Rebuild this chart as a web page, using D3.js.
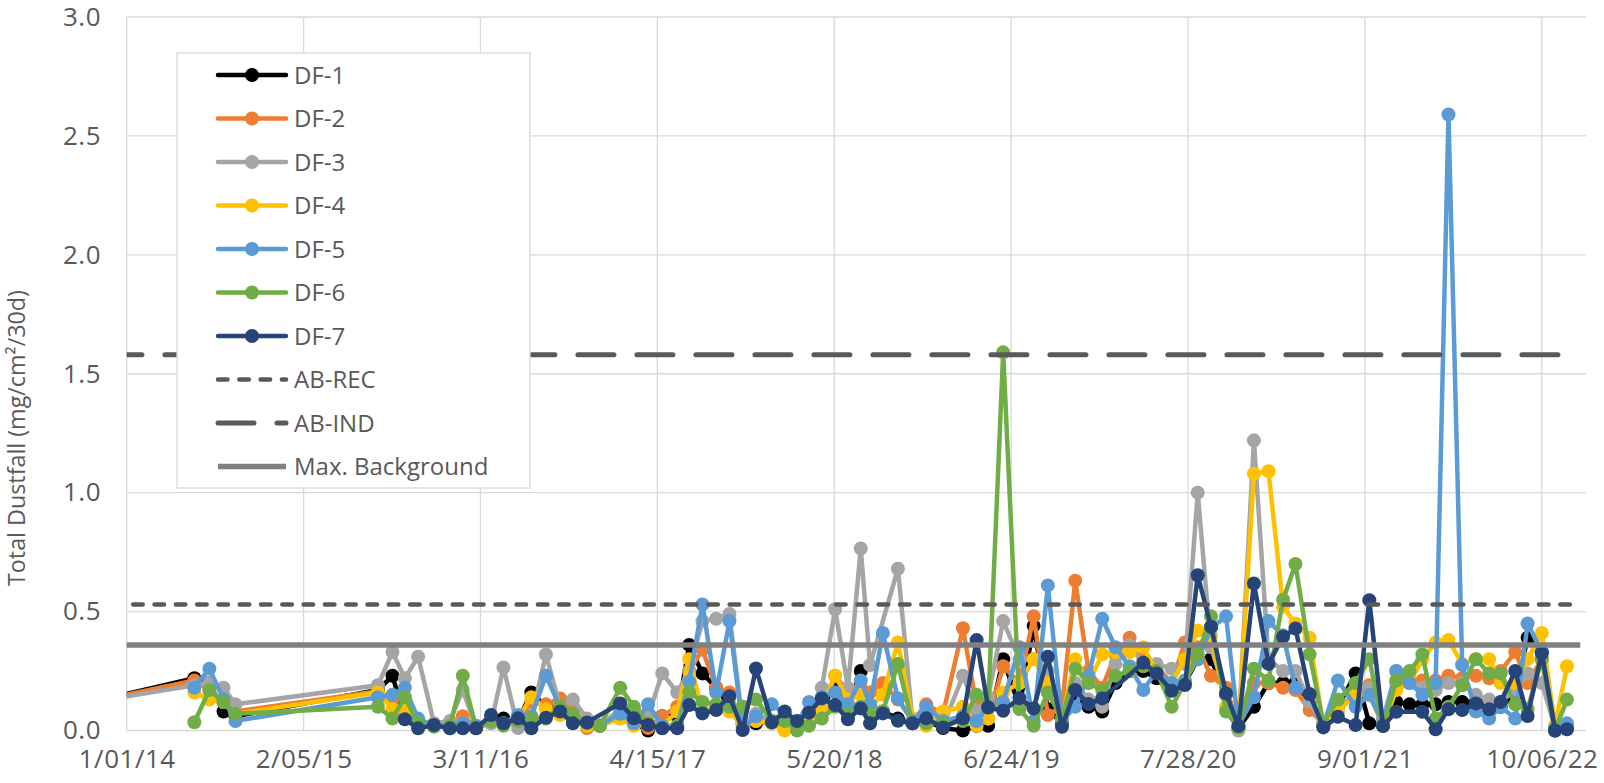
<!DOCTYPE html>
<html>
<head>
<meta charset="utf-8">
<script src="https://cdnjs.cloudflare.com/ajax/libs/d3/7.8.5/d3.min.js"></script>
<style>
body { margin: 0; background: #fff; }
svg { display: block; font-family: "Open Sans", sans-serif; }
</style>
</head>
<body>
<script>
"use strict"

const dates = [
	"2013-10-15","2014-06-03","2014-07-07","2014-08-08","2014-09-04","2015-07-23","2015-08-25","2015-09-22","2015-10-22","2015-11-27",
	"2016-01-02","2016-01-31","2016-03-01","2016-04-04","2016-05-02","2016-06-04","2016-07-04","2016-08-06","2016-09-07","2016-10-06",
	"2016-11-07","2016-12-06","2017-01-21","2017-02-21","2017-03-25","2017-04-26","2017-05-30","2017-06-26","2017-07-26","2017-08-26",
	"2017-09-25","2017-10-25","2017-11-24","2017-12-30","2018-01-28","2018-02-25","2018-03-24","2018-04-22","2018-05-22","2018-06-20",
	"2018-07-19","2018-08-09","2018-09-07","2018-10-11","2018-11-13","2018-12-14","2019-01-21","2019-03-07","2019-04-07","2019-05-03",
	"2019-06-06","2019-07-13","2019-08-14","2019-09-15","2019-10-17","2019-11-16","2019-12-16","2020-01-16","2020-02-15","2020-03-18",
	"2020-04-18","2020-05-18","2020-06-21","2020-07-21","2020-08-19","2020-09-18","2020-10-22","2020-11-19","2020-12-24","2021-01-26",
	"2021-02-28","2021-03-28","2021-04-29","2021-05-30","2021-07-02","2021-08-11","2021-09-11","2021-10-12","2021-11-11","2021-12-11",
	"2022-01-09","2022-02-08","2022-03-09","2022-04-09","2022-05-10","2022-06-09","2022-07-05","2022-08-07","2022-09-04","2022-10-06",
	"2022-11-05","2022-12-02"
];

const df1 = [
	0.12,0.22,0.20,0.08,0.06,0.17,0.23,0.05,0.03,0.02,
	0.02,0.03,0.01,0.04,0.05,0.04,0.16,0.10,0.09,0.05,
	0.03,0.02,0.06,0.03,0.00,0.06,0.06,0.36,0.24,0.18,
	0.10,0.03,0.03,0.04,0.03,0.02,0.06,0.10,0.18,0.10,
	0.25,0.10,0.08,0.05,0.03,0.04,0.01,0.00,0.02,0.02,
	0.30,0.10,0.44,0.09,0.03,0.15,0.10,0.08,0.20,0.25,
	0.25,0.22,0.18,0.20,0.30,0.30,0.15,0.01,0.10,0.20,
	0.20,0.20,0.12,0.02,0.10,0.24,0.03,0.02,0.12,0.11,
	0.11,0.11,0.12,0.12,0.12,0.11,0.10,0.15,0.39,0.33,
	0.00,0.01
];
const df2 = [
	0.12,0.21,0.17,0.12,0.08,0.165,0.13,0.06,0.04,0.02,
	0.01,0.06,0.015,0.04,0.03,0.04,0.12,0.11,0.135,0.10,
	0.01,0.02,0.085,0.09,0.01,0.06,0.10,0.25,0.34,0.18,
	0.16,0.03,0.04,0.04,0.03,0.01,0.03,0.09,0.23,0.16,
	0.18,0.16,0.20,0.13,0.04,0.11,0.07,0.43,0.10,0.05,
	0.27,0.20,0.48,0.065,0.10,0.63,0.25,0.18,0.32,0.39,
	0.30,0.27,0.20,0.37,0.35,0.23,0.18,0.02,0.20,0.20,
	0.18,0.17,0.086,0.03,0.10,0.15,0.19,0.05,0.20,0.21,
	0.21,0.21,0.23,0.22,0.23,0.22,0.25,0.33,0.20,0.30,
	0.01,0.02
];
const df3 = [
	0.12,0.19,0.20,0.18,0.11,0.19,0.33,0.22,0.31,0.03,
	0.04,0.17,0.01,0.03,0.265,0.01,0.05,0.32,0.10,0.13,
	0.05,0.02,0.09,0.05,0.06,0.24,0.16,0.25,0.46,0.47,
	0.49,0.03,0.07,0.04,0.03,0.02,0.05,0.18,0.51,0.18,
	0.765,0.275,null,0.68,0.04,0.05,0.02,0.23,0.08,0.14,
	0.46,0.30,0.30,0.25,0.08,0.20,0.13,0.10,0.28,0.36,
	0.28,0.28,0.26,0.28,1.00,0.35,0.15,0.00,1.22,0.30,
	0.25,0.25,0.12,0.02,0.10,0.15,0.18,0.05,0.25,0.20,
	0.18,0.17,0.20,0.20,0.15,0.13,0.12,0.17,0.24,0.20,
	0.01,0.02
];
const df4 = [
	null,0.16,0.13,0.12,0.07,0.16,0.09,0.09,0.03,0.02,
	0.02,0.03,0.01,0.04,0.03,0.05,0.14,0.09,0.065,0.05,
	0.02,0.02,0.05,0.02,0.03,0.02,0.08,0.30,0.08,0.10,
	0.08,0.02,0.04,0.03,0.00,0.01,0.04,0.10,0.23,0.13,
	0.15,0.10,0.15,0.37,0.05,0.02,0.08,0.10,0.02,0.05,
	0.16,0.20,0.30,0.20,0.05,0.30,0.20,0.32,0.33,0.33,
	0.35,0.25,0.20,0.30,0.42,0.40,0.10,0.01,1.08,1.09,
	0.52,0.45,0.39,0.02,0.08,0.15,0.15,0.02,0.17,0.20,
	0.30,0.37,0.38,0.28,0.30,0.30,0.20,0.20,0.30,0.41,
	0.02,0.27
];
const df5 = [
	null,0.18,0.26,0.13,0.04,0.14,0.15,0.18,0.05,0.02,
	0.02,0.03,0.02,0.04,0.03,0.065,0.06,0.23,0.10,0.06,
	0.03,0.02,0.07,0.03,0.11,0.02,0.02,0.205,0.53,0.16,
	0.46,0.01,0.06,0.11,0.07,0.03,0.12,0.14,0.16,0.11,
	0.21,0.11,0.41,0.135,0.04,0.10,0.04,0.06,0.04,0.10,
	0.12,0.35,0.04,0.61,0.04,0.10,0.23,0.47,0.35,0.27,
	0.17,0.25,0.20,0.21,0.30,0.43,0.48,0.02,0.14,0.46,
	0.40,0.18,0.15,0.02,0.21,0.10,0.15,0.03,0.25,0.20,
	0.15,0.20,2.59,0.275,0.08,0.05,0.10,0.05,0.45,0.33,
	0.01,0.03
];
const df6 = [
	null,0.035,0.17,0.12,0.07,0.10,0.05,0.14,0.03,0.016,
	0.02,0.23,0.01,0.04,0.02,0.04,0.05,0.05,0.10,0.07,
	0.03,0.02,0.18,0.10,0.03,0.01,0.02,0.16,0.12,0.11,
	0.10,0.10,0.13,0.04,0.04,0.00,0.02,0.05,0.10,0.07,
	0.10,0.07,0.08,0.28,0.03,0.03,0.03,0.04,0.15,0.10,
	1.59,0.09,0.02,0.16,0.05,0.26,0.20,0.17,0.23,0.25,
	0.27,0.25,0.10,0.20,0.32,0.48,0.08,0.01,0.26,0.21,
	0.55,0.70,0.32,0.03,0.13,0.20,0.30,0.02,0.21,0.25,
	0.32,0.05,0.10,0.19,0.30,0.24,0.24,0.11,0.09,0.30,
	0.00,0.13
];
const df7 = [
	null,null,null,null,null,null,null,0.047,0.009,0.023,
	0.009,0.009,0.009,0.065,0.03,0.051,0.009,0.054,0.08,0.03,
	0.034,null,0.114,0.051,0.023,0.009,0.009,0.107,0.072,0.086,
	0.144,0.002,0.261,0.034,0.08,0.04,0.075,0.135,0.107,0.047,
	0.093,0.03,0.072,0.041,0.03,0.051,0.013,0.051,0.38,0.097,
	0.083,0.136,0.093,0.31,0.016,0.17,0.111,0.135,null,null,
	0.285,0.24,0.167,0.191,0.653,0.436,0.156,0.019,0.618,0.28,
	0.394,0.429,0.153,0.013,0.058,0.023,0.548,0.019,0.079,null,
	0.079,0.005,0.089,0.086,0.114,0.089,0.12,0.25,0.061,0.325,
	0.0,0.005
];

const seriesNames = ["DF-1", "DF-2", "DF-3", "DF-4", "DF-5", "DF-6", "DF-7"];
const seriesValues = [df1, df2, df3, df4, df5, df6, df7];
const seriesColors = ["#000000", "#ed7d31", "#a5a5a5", "#ffc000", "#5b9bd5", "#70ad47", "#264478"];

const refNames = ["AB-REC", "AB-IND", "Max. Background"];
const refValues = [0.53, 1.58, 0.36];
const refSpan = ["2013-11-15", "2023-01-01"];

const yTicks = [0, 0.5, 1.0, 1.5, 2.0, 2.5, 3.0];
const xTickStart = "2014-01-01";
const xTickDays = 400;
const xTickCount = 9;
const yTitle = "Total Dustfall (mg/cm\u00b2/30d)";

const w = 1604;
const h = 783;
const plotL = 126.7, plotR = 1586, plotT = 17, plotB = 730.5;
const grid = "#d9d9d9";
const textColor = "#595959";
const markerR = 7;
const lineW = 4.5;

const parse = d3.utcParse("%Y-%m-%d");
const formatTick = d3.utcFormat("%-m/%d/%y");
const xTicks = d3.range(xTickCount).map(i => d3.utcDay.offset(parse(xTickStart), i * xTickDays));

const xScale = d3.scaleUtc()
	.domain([parse(xTickStart), parse("2023-01-14")])
	.range([plotL, plotR]);
const yScale = d3.scaleLinear()
	.domain([0, 3])
	.range([plotB, plotT]);

const mySvg = d3.select("body")
	.append("svg")
	.attr("width", w)
	.attr("height", h);

mySvg.append("defs").append("clipPath")
	.attr("id", "plot-clip")
	.append("rect")
	.attr("x", plotL)
	.attr("y", 0)
	.attr("width", plotR - plotL)
	.attr("height", h);

// gridlines
mySvg.append("g")
	.selectAll("line")
	.data(yTicks)
	.enter()
	.append("line")
	.attr("x1", plotL)
	.attr("x2", plotR)
	.attr("y1", d => yScale(d))
	.attr("y2", d => yScale(d))
	.attr("stroke", grid)
	.attr("stroke-width", 1.3);

mySvg.append("g")
	.selectAll("line")
	.data(xTicks)
	.enter()
	.append("line")
	.attr("x1", d => xScale(d))
	.attr("x2", d => xScale(d))
	.attr("y1", plotT)
	.attr("y2", plotB)
	.attr("stroke", grid)
	.attr("stroke-width", 1.3);

const yAxis = d3.axisLeft(yScale)
	.tickValues(yTicks)
	.tickFormat(d3.format(".1f"))
	.tickSize(0)
	.tickPadding(plotL - 101);

const xAxis = d3.axisBottom(xScale)
	.tickValues(xTicks)
	.tickFormat(formatTick)
	.tickSize(0)
	.tickPadding(19);

const yG = mySvg.append("g")
	.attr("transform", "translate(" + plotL + ",0)")
	.call(yAxis);
const xG = mySvg.append("g")
	.attr("transform", "translate(0," + plotB + ")")
	.call(xAxis);

[yG, xG].forEach(g => {
	g.select(".domain").remove();
	g.selectAll("text")
		.attr("fill", textColor)
		.style("font-size", "26px")
		.style("letter-spacing", "0.5px")
		.style("font-family", "'Open Sans', sans-serif");
});

mySvg.append("text")
	.attr("transform", "translate(25,438) rotate(-90)")
	.attr("text-anchor", "middle")
	.attr("fill", textColor)
	.style("font-size", "23.3px")
	.text(yTitle);

// data series
const line = d3.line()
	.x(d => xScale(d.date))
	.y(d => yScale(d.v));

const plotG = mySvg.append("g").attr("clip-path", "url(#plot-clip)");

seriesValues.forEach((vals, k) => {
	const pts = dates.map((d, i) => ({ date: parse(d), v: vals[i] }))
		.filter(p => p.v !== null);
	const g = plotG.append("g");
	g.append("path")
		.datum(pts)
		.attr("d", line)
		.attr("fill", "none")
		.attr("stroke", seriesColors[k])
		.attr("stroke-width", lineW)
		.attr("stroke-linejoin", "round")
		.attr("stroke-linecap", "round");
	g.selectAll("circle")
		.data(pts)
		.enter()
		.append("circle")
		.attr("cx", d => xScale(d.date))
		.attr("cy", d => yScale(d.v))
		.attr("r", markerR)
		.attr("fill", seriesColors[k]);
});

// reference lines
const refStyle = [
	{ color: "#595959", width: 4.5, dash: "9.5 11.8", offset: -6 },
	{ color: "#595959", width: 5, dash: "36 23", offset: 0 },
	{ color: "#808080", width: 5.5, dash: null, offset: 0 }
];

refValues.forEach((v, k) => {
	const pts = refSpan.map(d => ({ date: parse(d), v: v }));
	plotG.append("path")
		.datum(pts)
		.attr("d", line)
		.attr("fill", "none")
		.attr("stroke", refStyle[k].color)
		.attr("stroke-width", refStyle[k].width)
		.attr("stroke-dasharray", refStyle[k].dash)
		.attr("stroke-dashoffset", refStyle[k].offset)
		.attr("stroke-linecap", refStyle[k].dash ? "round" : "butt");
});

// legend
const legend = mySvg.append("g");
legend.append("rect")
	.attr("x", 177)
	.attr("y", 53)
	.attr("width", 353)
	.attr("height", 435)
	.attr("fill", "#fff")
	.attr("stroke", grid)
	.attr("stroke-width", 1.3);

const legendItems = seriesNames.map((n, i) => ({ name: n, color: seriesColors[i], marker: true, style: null }))
	.concat(refNames.map((n, i) => ({ name: n, color: refStyle[i].color, marker: false, style: refStyle[i] })));

legendItems.forEach((d, i) => {
	const cy = 75 + i * 43.5;
	const st = d.style;
	legend.append("line")
		.attr("x1", 218)
		.attr("x2", 286)
		.attr("y1", cy)
		.attr("y2", cy)
		.attr("stroke", d.color)
		.attr("stroke-width", st ? st.width : lineW)
		.attr("stroke-dasharray", st ? st.dash : null)
		.attr("stroke-linecap", st && !st.dash ? "butt" : "round");
	if (d.marker) {
		legend.append("circle")
			.attr("cx", 252)
			.attr("cy", cy)
			.attr("r", markerR)
			.attr("fill", d.color);
	}
	legend.append("text")
		.attr("x", 294)
		.attr("y", cy)
		.attr("dy", "0.36em")
		.attr("fill", textColor)
		.style("font-size", "24px")
		.text(d.name);
});
</script>
</body>
</html>
